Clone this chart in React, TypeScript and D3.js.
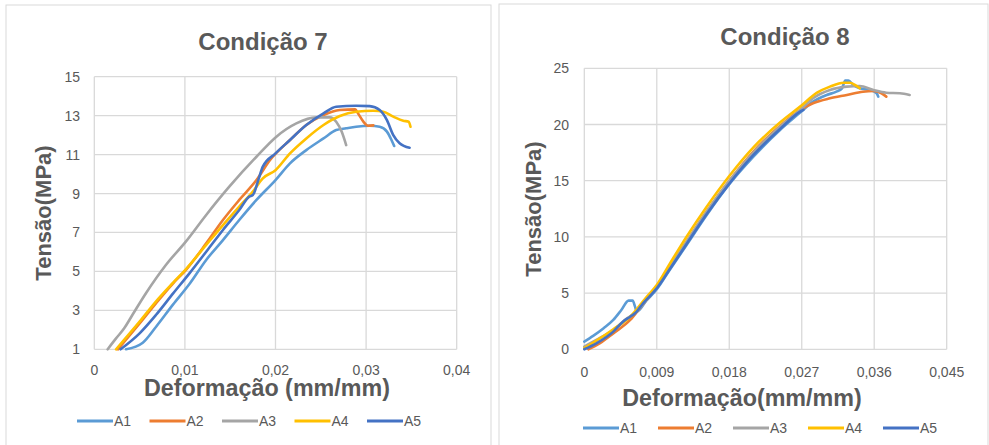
import React, { useEffect, useRef } from 'react'
import * as d3 from 'd3'

const seriesNames = ['A1', 'A2', 'A3', 'A4', 'A5']
const seriesColors = ['#5B9BD5', '#ED7D31', '#A5A5A5', '#FFC000', '#4472C4']

// Condição 7 — [deformação, tensão]
const c7A1: [number, number][] = [
  [0.0035, 1.0], [0.00535, 1.34], [0.00682, 2.16], [0.00866, 3.28], [0.0105, 4.35],
  [0.01235, 5.59], [0.0142, 6.61], [0.016, 7.64], [0.0179, 8.67], [0.02, 9.69],
  [0.0216, 10.55], [0.0234, 11.23], [0.0253, 11.83], [0.0267, 12.26], [0.0278, 12.35],
  [0.0289, 12.43], [0.0304, 12.48], [0.0315, 12.43], [0.0323, 12.18], [0.0328, 11.75],
  [0.0331, 11.44]
]
const c7A2: [number, number][] = [
  [0.0026, 1.0], [0.005, 2.33], [0.0068, 3.36], [0.0087, 4.39], [0.0101, 5.07],
  [0.01235, 6.44], [0.0142, 7.64], [0.016, 8.67], [0.0179, 9.69], [0.0194, 10.72],
  [0.0216, 11.75], [0.0234, 12.52], [0.0253, 13.03], [0.0271, 13.29], [0.0288, 13.32],
  [0.0291, 13.12], [0.0297, 12.69], [0.0302, 12.48], [0.0308, 12.5]
]
const c7A3: [number, number][] = [
  [0.00147, 1.0], [0.0024, 1.56], [0.0033, 2.08], [0.0042, 2.76], [0.0057, 3.88],
  [0.0079, 5.33], [0.0101, 6.53], [0.01235, 7.9], [0.0149, 9.35], [0.0179, 10.89],
  [0.0201, 11.92], [0.0223, 12.6], [0.0245, 12.91], [0.026, 12.91], [0.0267, 12.69],
  [0.0273, 12.18], [0.0278, 11.49]
]
const c7A4: [number, number][] = [
  [0.0024, 1.0], [0.005, 2.42], [0.0068, 3.45], [0.0087, 4.42], [0.0101, 5.11],
  [0.01235, 6.36], [0.0142, 7.38], [0.016, 8.33], [0.0175, 9.1], [0.0186, 9.78],
  [0.02, 10.2], [0.0216, 11.06], [0.0234, 11.83], [0.0253, 12.52], [0.0271, 12.98],
  [0.0289, 13.2], [0.0308, 13.25], [0.0319, 13.2], [0.033, 12.95], [0.0341, 12.74],
  [0.0347, 12.69], [0.0349, 12.43]
]
const c7A5: [number, number][] = [
  [0.0029, 1.0], [0.005, 1.82], [0.0068, 2.76], [0.0087, 3.87], [0.0105, 4.9],
  [0.01235, 6.01], [0.0142, 7.13], [0.016, 8.15], [0.0171, 8.84], [0.0175, 8.92],
  [0.0181, 9.69], [0.0186, 10.38], [0.02, 11.06], [0.0216, 11.75], [0.0234, 12.52],
  [0.0253, 13.12], [0.0267, 13.46], [0.0289, 13.51], [0.0304, 13.49], [0.0315, 13.29],
  [0.0323, 12.77], [0.033, 12.0], [0.0337, 11.58], [0.0348, 11.35]
]

// Condição 8
const c8A1: [number, number][] = [
  [0, 0.68], [0.0011, 1.19], [0.0024, 1.87], [0.0036, 2.61], [0.0046, 3.5],
  [0.0055, 4.33], [0.006, 4.33], [0.0063, 3.8], [0.0065, 3.35], [0.0077, 4.33],
  [0.009, 5.34], [0.0106, 7.06], [0.0127, 9.28], [0.0152, 11.95], [0.0181, 14.77],
  [0.021, 17.14], [0.0243, 19.51], [0.0268, 21.06], [0.0284, 22.03], [0.0301, 22.63],
  [0.0313, 22.92], [0.032, 23.22], [0.0324, 23.9], [0.0328, 23.9], [0.0334, 23.52],
  [0.0342, 23.22], [0.0355, 23.07], [0.0363, 22.78], [0.0365, 22.48]
]
const c8A2: [number, number][] = [
  [0.0005, 0], [0.0019, 0.53], [0.0036, 1.42], [0.0057, 2.61], [0.0069, 3.65],
  [0.0082, 4.83], [0.009, 5.58], [0.0106, 7.35], [0.0127, 9.58], [0.0152, 12.25],
  [0.0181, 15.07], [0.021, 17.59], [0.0243, 19.87], [0.0268, 21.29], [0.0284, 21.89],
  [0.0305, 22.33], [0.0326, 22.63], [0.0346, 22.92], [0.0359, 22.98], [0.0369, 22.78],
  [0.0375, 22.48]
]
const c8A3: [number, number][] = [
  [0, 0.24], [0.0015, 0.83], [0.0036, 1.72], [0.0053, 2.76], [0.0065, 3.35],
  [0.0077, 4.39], [0.009, 5.52], [0.0106, 7.3], [0.0127, 9.58], [0.0152, 12.25],
  [0.0181, 15.07], [0.021, 17.5], [0.0243, 19.81], [0.0268, 21.29], [0.0284, 22.33],
  [0.0305, 23.07], [0.0326, 23.37], [0.0342, 23.43], [0.0359, 23.07], [0.0375, 22.83],
  [0.0392, 22.78], [0.0404, 22.63]
]
const c8A4: [number, number][] = [
  [0, 0.1], [0.0015, 0.77], [0.0036, 1.78], [0.0057, 2.9], [0.0077, 4.63],
  [0.009, 5.72], [0.0106, 7.59], [0.0127, 10.02], [0.0152, 12.69], [0.0181, 15.51],
  [0.021, 17.97], [0.0243, 20.17], [0.0268, 21.59], [0.0289, 22.83], [0.0305, 23.37],
  [0.0322, 23.72], [0.033, 23.72], [0.0338, 23.43], [0.0342, 23.22]
]
const c8A5: [number, number][] = [
  [0, 0], [0.0015, 0.53], [0.0036, 1.57], [0.0048, 2.46], [0.0057, 2.9],
  [0.0063, 3.2], [0.0073, 4.09], [0.009, 5.43], [0.0106, 7.12], [0.0127, 9.37],
  [0.0152, 12.04], [0.0181, 14.83], [0.021, 17.29], [0.0243, 19.6], [0.0268, 21.14],
  [0.0272, 21.3]
]

const c7XTicks = [0, 0.01, 0.02, 0.03, 0.04]
const c7YTicks = [1, 3, 5, 7, 9, 11, 13, 15]
const c8XTicks = [0, 0.009, 0.018, 0.027, 0.036, 0.045]
const c8YTicks = [0, 5, 10, 15, 20, 25]

const FONT = '"Liberation Sans", Arial, sans-serif'
const TEXT = '#595959'
const GRID = '#D9D9D9'

const fmt = d3.formatLocale({ decimal: ',', thousands: '.', grouping: [3], currency: ['', ''] }).format('~g')

const charts = [
  {
    title: 'Condição 7', xTitle: 'Deformação (mm/mm)', yTitle: 'Tensão(MPa)',
    series: [c7A1, c7A2, c7A3, c7A4, c7A5],
    xTicks: c7XTicks, yTicks: c7YTicks,
    frame: [6, 5, 485, 450],
    plot: { left: 94.3, right: 456.7, top: 76.7, bottom: 349.3 },
    titleAt: [263, 50], yTitleAt: [51, 213], xTitleAt: [267, 396],
    xLabelY: 375, yLabelX: 80,
    legend: { x: 77, step: 72.5, y: 421 }
  },
  {
    title: 'Condição 8', xTitle: 'Deformação(mm/mm)', yTitle: 'Tensão(MPa)',
    series: [c8A1, c8A2, c8A3, c8A4, c8A5],
    xTicks: c8XTicks, yTicks: c8YTicks,
    frame: [499, 4, 489, 450],
    plot: { left: 584.3, right: 946.7, top: 68.3, bottom: 349.3 },
    titleAt: [785, 45], yTitleAt: [541, 209], xTitleAt: [742, 406],
    xLabelY: 377, yLabelX: 569,
    legend: { x: 583, step: 75, y: 428 }
  }
]

function drawChart(g: any, c: any) {
  const x = d3.scaleLinear()
    .domain([c.xTicks[0], c.xTicks[c.xTicks.length - 1]])
    .range([c.plot.left, c.plot.right])
  const y = d3.scaleLinear()
    .domain([c.yTicks[0], c.yTicks[c.yTicks.length - 1]])
    .range([c.plot.bottom, c.plot.top])

  g.append('rect')
    .attr('x', c.frame[0]).attr('y', c.frame[1])
    .attr('width', c.frame[2]).attr('height', c.frame[3])
    .attr('fill', '#fff').attr('stroke', GRID).attr('stroke-width', 1)

  // grid
  g.selectAll('.hg').data(c.yTicks).join('line')
    .attr('x1', c.plot.left).attr('x2', c.plot.right)
    .attr('y1', (d: number) => y(d)).attr('y2', (d: number) => y(d))
    .attr('stroke', GRID).attr('stroke-width', 1.3)
  g.selectAll('.vg').data(c.xTicks).join('line')
    .attr('y1', c.plot.top).attr('y2', c.plot.bottom)
    .attr('x1', (d: number) => x(d)).attr('x2', (d: number) => x(d))
    .attr('stroke', GRID).attr('stroke-width', 1.3)

  // tick labels
  g.selectAll('.yl').data(c.yTicks).join('text')
    .attr('x', c.yLabelX).attr('y', (d: number) => y(d) + 5)
    .attr('text-anchor', 'end')
    .attr('font-family', FONT).attr('font-size', 14).attr('fill', TEXT)
    .text((d: number) => fmt(d))
  g.selectAll('.xl').data(c.xTicks).join('text')
    .attr('x', (d: number) => x(d)).attr('y', c.xLabelY)
    .attr('text-anchor', 'middle')
    .attr('font-family', FONT).attr('font-size', 14).attr('fill', TEXT)
    .text((d: number) => fmt(d))

  // series
  const line = d3.line<[number, number]>()
    .x(d => x(d[0]))
    .y(d => y(d[1]))
    .curve(d3.curveMonotoneX)
  c.series.forEach((s: [number, number][], i: number) => {
    g.append('path')
      .attr('d', line(s))
      .attr('fill', 'none')
      .attr('stroke', seriesColors[i])
      .attr('stroke-width', 2.6)
      .attr('stroke-linejoin', 'round')
      .attr('stroke-linecap', 'round')
  })

  // titles
  g.append('text')
    .attr('x', c.titleAt[0]).attr('y', c.titleAt[1])
    .attr('text-anchor', 'middle')
    .attr('font-family', FONT).attr('font-weight', 'bold').attr('font-size', 24)
    .attr('fill', TEXT).text(c.title)
  g.append('text')
    .attr('transform', `translate(${c.yTitleAt[0]},${c.yTitleAt[1]}) rotate(-90)`)
    .attr('text-anchor', 'middle')
    .attr('font-family', FONT).attr('font-weight', 'bold').attr('font-size', 22)
    .attr('fill', TEXT).text(c.yTitle)
  g.append('text')
    .attr('x', c.xTitleAt[0]).attr('y', c.xTitleAt[1])
    .attr('text-anchor', 'middle')
    .attr('font-family', FONT).attr('font-weight', 'bold').attr('font-size', 23.3)
    .attr('fill', TEXT).text(c.xTitle)

  // legend
  const lg = g.selectAll('.lg').data(seriesNames).join('g')
    .attr('transform', (_: string, i: number) => `translate(${c.legend.x + i * c.legend.step},${c.legend.y})`)
  lg.append('line')
    .attr('x1', 0).attr('x2', 36).attr('y1', 0).attr('y2', 0)
    .attr('stroke', (_: string, i: number) => seriesColors[i]).attr('stroke-width', 3)
  lg.append('text')
    .attr('x', 37).attr('y', 5)
    .attr('font-family', FONT).attr('font-size', 14).attr('fill', TEXT)
    .text((d: string) => d)
}

export default function App() {
  const ref = useRef<SVGSVGElement>(null)

  useEffect(() => {
    const svg = d3.select(ref.current)
    svg.selectAll('*').remove()
    charts.forEach(c => drawChart(svg.append('g'), c))
  }, [])

  return (
    <svg
      ref={ref}
      width={989}
      height={445}
      style={{ position: 'absolute', left: 0, top: 0, background: '#fff' }}
    />
  )
}
